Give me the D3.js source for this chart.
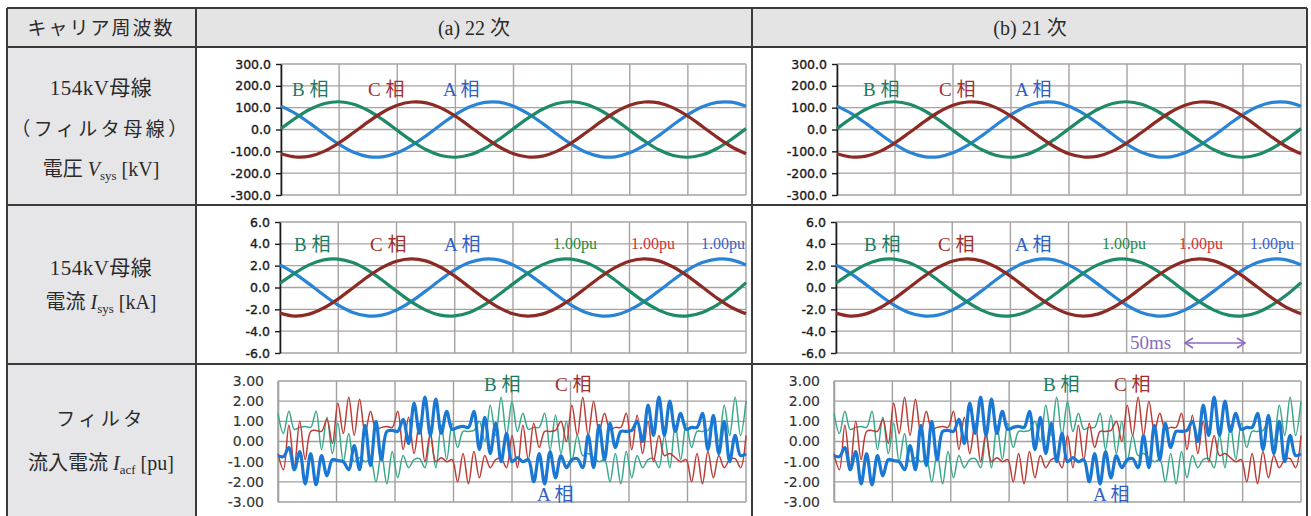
<!DOCTYPE html>
<html><head><meta charset="utf-8">
<script src="https://cdn.jsdelivr.net/npm/d3@7"></script>
<style>
html,body{margin:0;padding:0;background:#fff;}
svg{display:block;}
</style></head><body>
<svg id="c" width="1311" height="516"></svg>
<script>
// ---------------- data ----------------
const timeDomain = [0, 400];          // horizontal span of each plot (8 grid divisions)
const gridTimes = [0, 50, 100, 150, 200, 250, 300, 350, 400];
const sinStep = 12.5;                 // sample spacing of the bus waveforms
const hfStep = 400 / 86;              // sample spacing of the filter current waveforms

// 154kV bus voltage [kV] (same in both columns)
const voltA = [107, 73, 28, -22, -68, -104, -124, -125, -107, -73, -28, 22, 68, 104, 124, 125, 107, 73, 28, -22, -68, -104, -124, -125, -107, -73, -28, 22, 68, 104, 124, 125, 107];
const voltB = [4, 52, 93, 119, 127, 116, 87, 45, -4, -52, -93, -119, -127, -116, -87, -45, 4, 52, 93, 119, 127, 116, 87, 45, -4, -52, -93, -119, -127, -116, -87, -45, 4];
const voltC = [-111, -126, -122, -99, -61, -14, 35, 79, 111, 126, 122, 99, 61, 14, -35, -79, -111, -126, -122, -99, -61, -14, 35, 79, 111, 126, 122, 99, 61, 14, -35, -79, -111];

// 154kV bus current [kA]
const currA = [2.07, 1.30, 0.33, -0.69, -1.61, -2.28, -2.60, -2.53, -2.07, -1.30, -0.33, 0.69, 1.61, 2.28, 2.60, 2.53, 2.07, 1.30, 0.33, -0.69, -1.61, -2.28, -2.60, -2.53, -2.07, -1.30, -0.33, 0.69, 1.61, 2.28, 2.60, 2.53, 2.07];
const currB = [0.40, 1.30, 2.07, 2.53, 2.60, 2.28, 1.61, 0.69, -0.33, -1.30, -2.07, -2.53, -2.60, -2.28, -1.61, -0.69, 0.33, 1.30, 2.07, 2.53, 2.60, 2.28, 1.61, 0.69, -0.33, -1.30, -2.07, -2.53, -2.60, -2.28, -1.61, -0.69, 0.45];
const currC = [-2.35, -2.62, -2.44, -1.88, -1.04, -0.04, 0.96, 1.82, 2.41, 2.62, 2.44, 1.88, 1.04, 0.04, -0.96, -1.82, -2.41, -2.62, -2.44, -1.88, -1.04, -0.04, 0.96, 1.82, 2.41, 2.62, 2.44, 1.88, 1.04, 0.04, -0.96, -1.82, -2.41];

// filter inflow current [pu], (a) carrier 22
const filtA22 = [-0.70, -0.75, -0.30, -1.40, -0.50, -2.10, -0.60, -2.15, -0.70, -1.70, -0.90, -0.95, -1.00, -1.40, -0.20, -1.40, 0.80, -1.20, 1.00, -0.90, 0.50, 0.55, 0.50, 1.10, -0.10, 1.90, 0.40, 2.20, 0.30, 2.10, 0.40, 1.50, 0.60, 0.70, 0.75, 0.70, 1.50, -0.40, 1.20, -0.60, 0.90, -1.00, 0.40, -1.00, -0.80, -1.00, -0.90, -2.00, -0.60, -2.10, -0.50, -1.80, -0.70, -1.30, -0.90, -0.85, -1.30, 0.30, -1.30, 0.80, -0.90, 0.90, -0.30, 0.50, 0.50, 0.55, 1.00, 0.00, 1.80, 0.30, 2.20, 0.30, 2.00, 0.50, 1.40, 0.60, 0.70, 0.70, 1.40, -0.40, 1.30, -0.60, 1.00, -1.00, 0.30, -0.70, -0.60];
const filtB22 = [1.40, 0.40, 1.50, 0.60, 0.70, 0.75, 0.70, 1.50, -0.40, 1.20, -0.60, 0.90, -1.00, 0.40, -1.00, -0.80, -1.00, -0.90, -2.00, -0.60, -2.10, -0.50, -1.80, -0.70, -1.30, -0.90, -0.85, -1.30, 0.30, -1.30, 0.80, -0.90, 0.90, -0.30, 0.50, 0.50, 0.55, 1.00, 0.00, 1.80, 0.30, 2.20, 0.30, 2.00, 0.50, 1.40, 0.60, 0.70, 0.70, 1.40, -0.40, 1.30, -0.60, 1.00, -1.00, 0.30, -0.70, -0.60, -0.80, -1.00, -0.90, -2.00, -0.60, -2.10, -0.50, -1.80, -0.70, -1.30, -0.90, -0.85, -1.30, 0.30, -1.30, 0.80, -0.90, 0.90, -0.30, 0.50, 0.50, 0.55, 1.00, 0.00, 1.80, 0.30, 2.20, 0.30, 2.00];
const filtC22 = [-0.60, -1.40, 0.80, -1.20, 1.00, -0.90, 0.50, 0.55, 0.50, 1.10, -0.10, 1.90, 0.40, 2.20, 0.30, 2.10, 0.40, 1.50, 0.60, 0.70, 0.75, 0.70, 1.50, -0.40, 1.20, -0.60, 0.90, -1.00, 0.40, -1.00, -0.80, -1.00, -0.90, -2.00, -0.60, -2.10, -0.50, -1.80, -0.70, -1.30, -0.90, -0.85, -1.30, 0.30, -1.30, 0.80, -0.90, 0.90, -0.30, 0.50, 0.50, 0.55, 1.00, 0.00, 1.80, 0.30, 2.20, 0.30, 2.00, 0.50, 1.40, 0.60, 0.70, 0.70, 1.40, -0.40, 1.30, -0.60, 1.00, -1.00, 0.30, -0.70, -0.60, -0.80, -1.00, -0.90, -2.00, -0.60, -2.10, -0.50, -1.80, -0.70, -1.30, -0.90, -0.85, -1.30, 0.30];
// (b) carrier 21 (read-off matches (a) at this resolution)
const filtA21 = filtA22, filtB21 = filtB22, filtC21 = filtC22;

const voltTicks = [300, 200, 100, 0, -100, -200, -300];
const currTicks = [6, 4, 2, 0, -2, -4, -6];
const filtTicks = [3, 2, 1, 0, -1, -2, -3];

const headerLabels = ["キャリア周波数", "(a)  22 次", "(b)  21 次"];
const phaseNames = ["A 相", "B 相", "C 相"];
const puLabel = "1.00pu";
const timeLabel = "50ms";

// ---------------- styling ----------------
const col = {
  line: {A: "#2a84d6", B: "#1e8a68", C: "#8c2a24"},
  text: {A: "#2f5fc4", B: "#1d7a62", C: "#a03030"},
  pu:   {A: "#3a62c8", B: "#2a8a40", C: "#d03434"},
  hf:   {A: "#1a78d2", B: "#3aa88c", C: "#be3c36"}
};
const serif = "'Liberation Serif','Noto Sans CJK JP',serif";
const minus = d3.formatLocale({decimal: ".", thousands: ",", grouping: [3], currency: ["", ""], minus: "-"});

const svg = d3.select("#c");
svg.append("rect").attr("width", 1311).attr("height", 516).attr("fill", "#fff");

// ---------------- table ----------------
const X0 = 7, X1 = 196, X2 = 752, X3 = 1307;
const Y0 = 8, Y1 = 47, Y2 = 205, Y3 = 364, Y4 = 520;
svg.append("rect").attr("x", X0).attr("y", Y0).attr("width", X3 - X0).attr("height", Y1 - Y0).attr("fill", "#e4e4e4");
svg.append("rect").attr("x", X0).attr("y", Y1).attr("width", X1 - X0).attr("height", Y4 - Y1).attr("fill", "#e6e6e8");
const tl = svg.append("g").attr("stroke", "#3a3a3a").attr("stroke-width", 2).attr("fill", "none");
[Y0, Y1, Y2, Y3].forEach(y => tl.append("line").attr("x1", X0).attr("x2", X3).attr("y1", y).attr("y2", y));
[X0, X1, X2, X3].forEach(x => tl.append("line").attr("x1", x).attr("x2", x).attr("y1", Y0).attr("y2", Y4));

const txt = (x, y, s, opt = {}) => svg.append("text").attr("x", x).attr("y", y)
  .attr("font-family", opt.ff || serif).attr("font-size", opt.fs || 18)
  .attr("fill", opt.fill || "#2a2a2a").attr("text-anchor", opt.anchor || "middle")
  .attr("letter-spacing", opt.ls || 0).text(s);

txt(101, 35, headerLabels[0], {fs: 19, ls: 2, ff: "'Noto Sans CJK JP',sans-serif"});
txt(474, 35, headerLabels[1], {fs: 20});
txt(1030, 35, headerLabels[2], {fs: 20});

txt(101, 95, "154kV母線", {fs: 21, ls: 0.5});
txt(101, 136, "（フィルタ母線）", {fs: 19, ls: 3.5});
function subLabel(y, pre, sym, sub, post) {
  const t = svg.append("text").attr("x", 101).attr("y", y).attr("text-anchor", "middle")
    .attr("font-family", serif).attr("font-size", 20).attr("fill", "#2a2a2a");
  t.append("tspan").text(pre);
  t.append("tspan").attr("font-style", "italic").text(sym);
  t.append("tspan").attr("font-size", 13).attr("dy", 4).text(sub);
  t.append("tspan").attr("dy", -4).text(post);
}
subLabel(176, "電圧 ", "V", "sys", "  [kV]");
txt(101, 275, "154kV母線", {fs: 21, ls: 0.5});
subLabel(309, "電流 ", "I", "sys", "  [kA]");
txt(101, 426, "フィルタ", {fs: 19, ls: 3.5});
subLabel(470, "流入電流 ", "I", "acf", "  [pu]");

// ---------------- panels ----------------
function panel(cfg) {
  const g = svg.append("g");
  const x = d3.scaleLinear().domain(timeDomain).range([cfg.x0, cfg.x1]);
  const y = d3.scaleLinear().domain([cfg.ticks[cfg.ticks.length - 1], cfg.ticks[0]]).range([cfg.y1, cfg.y0]);
  const grid = g.append("g").attr("stroke", cfg.gridColor).attr("stroke-width", 1.4);
  cfg.ticks.forEach(v => grid.append("line").attr("x1", cfg.x0).attr("x2", cfg.x1).attr("y1", y(v)).attr("y2", y(v)));
  gridTimes.forEach(t => grid.append("line").attr("x1", x(t)).attr("x2", x(t)).attr("y1", cfg.y0).attr("y2", cfg.y1));

  const ax = g.append("g").attr("transform", `translate(${cfg.x0},0)`)
    .call(d3.axisLeft(y).tickValues(cfg.ticks).tickFormat(minus.format(cfg.fmt))
      .tickSizeInner(cfg.tick).tickSizeOuter(0).tickPadding(cfg.pad));
  ax.select(".domain").attr("stroke", cfg.axisColor).attr("stroke-width", 1.6);
  ax.selectAll(".tick line").attr("stroke", cfg.axisColor).attr("stroke-width", 1.4);
  ax.selectAll(".tick text").attr("font-family", "'DejaVu Sans',sans-serif")
    .attr("font-size", cfg.tfs).attr("fill", cfg.tfill)
    .attr("stroke", cfg.tfill).attr("stroke-width", cfg.tsw);

  const lines = g.append("g").attr("fill", "none").attr("stroke-linejoin", "round");
  cfg.series.forEach(s => {
    const line = d3.line().x((d, i) => x(i * cfg.step)).y(d => y(d)).curve(d3.curveCatmullRom.alpha(0.5));
    lines.append("path").datum(s.values).attr("d", line)
      .attr("stroke", s.color).attr("stroke-width", s.w);
  });
  return g;
}

const cols = [
  {x0s: [281, 280, 278], x1: 746, f: [filtA22, filtB22, filtC22]},
  {x0s: [837, 836, 834], x1: 1301, f: [filtA21, filtB21, filtC21]}
];
cols.forEach(c => {
  panel({x0: c.x0s[0], x1: c.x1, y0: 64, y1: 195, ticks: voltTicks, fmt: ".1f", tick: 5, pad: 5, tfs: 12.5, tfill: "#1a1a1a", tsw: 0.35,
    gridColor: "#a8a2a0", axisColor: "#1a1a1a", step: sinStep,
    series: [{values: voltA, color: col.line.A, w: 3.2}, {values: voltB, color: col.line.B, w: 3.2}, {values: voltC, color: col.line.C, w: 3.2}]});
  panel({x0: c.x0s[1], x1: c.x1, y0: 222, y1: 353, ticks: currTicks, fmt: ".1f", tick: 5, pad: 5, tfs: 12.5, tfill: "#1a1a1a", tsw: 0.35,
    gridColor: "#a8a2a0", axisColor: "#1a1a1a", step: sinStep,
    series: [{values: currA, color: col.line.A, w: 3.2}, {values: currB, color: col.line.B, w: 3.2}, {values: currC, color: col.line.C, w: 3.2}]});
  panel({x0: c.x0s[2], x1: c.x1, y0: 381, y1: 502, ticks: filtTicks, fmt: ".2f", tick: 0, pad: 14, tfs: 14, tfill: "#333", tsw: 0.15,
    gridColor: "#a0a0a0", axisColor: "#a0a0a0", step: hfStep,
    series: [{values: c.f[1], color: col.hf.B, w: 1.5}, {values: c.f[2], color: col.hf.C, w: 1.5}, {values: c.f[0], color: col.hf.A, w: 3.2}]});
});

// ---------------- annotations ----------------
const lab = (x, y, s, fill, fs = 19) => svg.append("text").attr("x", x).attr("y", y)
  .attr("font-family", serif).attr("font-size", fs).attr("fill", fill).text(s);
// row 1
lab(292, 96, phaseNames[1], col.text.B); lab(368, 96, phaseNames[2], col.text.C); lab(443, 96, phaseNames[0], col.text.A);
lab(863, 96, phaseNames[1], col.text.B); lab(939, 96, phaseNames[2], col.text.C); lab(1015, 96, phaseNames[0], col.text.A);
// row 2
lab(294, 251, phaseNames[1], col.text.B); lab(370, 251, phaseNames[2], col.text.C); lab(444, 251, phaseNames[0], col.text.A);
lab(864, 251, phaseNames[1], col.text.B); lab(938, 251, phaseNames[2], col.text.C); lab(1015, 251, phaseNames[0], col.text.A);
lab(553, 249, puLabel, col.pu.B, 16); lab(631, 249, puLabel, col.pu.C, 16); lab(701, 249, puLabel, col.pu.A, 16);
lab(1102, 249, puLabel, col.pu.B, 16); lab(1179, 249, puLabel, col.pu.C, 16); lab(1250, 249, puLabel, col.pu.A, 16);
// 50ms arrow
lab(1130, 349, timeLabel, "#8a6cc0", 19);
const ar = svg.append("g").attr("stroke", "#8a6cc0").attr("stroke-width", 1.6).attr("fill", "none");
ar.append("line").attr("x1", 1185).attr("x2", 1245).attr("y1", 343).attr("y2", 343);
ar.append("polyline").attr("points", "1193,338 1185,343 1193,348");
ar.append("polyline").attr("points", "1237,338 1245,343 1237,348");
// row 3
lab(484, 391, phaseNames[1], col.text.B); lab(555, 391, phaseNames[2], col.text.C); lab(537, 501, phaseNames[0], col.text.A);
lab(1043, 391, phaseNames[1], col.text.B); lab(1114, 391, phaseNames[2], col.text.C); lab(1093, 501, phaseNames[0], col.text.A);
</script>
</body></html>
